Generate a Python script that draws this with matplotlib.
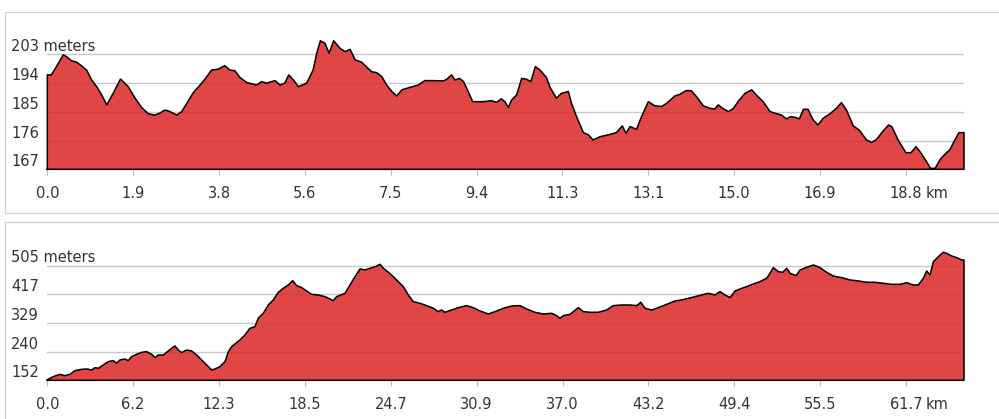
import matplotlib
matplotlib.use('Agg')
import matplotlib.pyplot as plt
from matplotlib.patches import Rectangle

# elevation profiles (km, meters)
top_km = [0.00, 0.09, 0.20, 0.35, 0.42, 0.53, 0.64, 0.75, 0.86, 0.97,
          1.08, 1.19, 1.30, 1.44, 1.60, 1.77, 1.92, 2.06, 2.21, 2.35,
          2.46, 2.57, 2.68, 2.83, 2.94, 3.05, 3.19, 3.34, 3.45, 3.59,
          3.74, 3.88, 3.99, 4.10, 4.21, 4.36, 4.58, 4.68, 4.79, 4.98,
          5.09, 5.19, 5.28, 5.38, 5.49, 5.67, 5.81, 5.89, 5.97, 6.07,
          6.16, 6.26, 6.40, 6.51, 6.62, 6.73, 6.87, 6.97, 7.09, 7.20,
          7.31, 7.42, 7.53, 7.64, 7.75, 7.93, 8.11, 8.25, 8.44, 8.66,
          8.73, 8.84, 8.91, 9.01, 9.10, 9.20, 9.30, 9.53, 9.71, 9.82,
          9.93, 10.00, 10.08, 10.15, 10.26, 10.37, 10.48, 10.57, 10.67, 10.77,
          10.91, 11.00, 11.13, 11.24, 11.39, 11.46, 11.57, 11.72, 11.83, 11.93,
          12.08, 12.26, 12.44, 12.57, 12.65, 12.74, 12.88, 12.99, 13.14, 13.28,
          13.43, 13.54, 13.72, 13.83, 13.97, 14.08, 14.19, 14.34, 14.49, 14.59,
          14.67, 14.76, 14.89, 15.00, 15.10, 15.25, 15.40, 15.50, 15.65, 15.80,
          15.90, 16.05, 16.16, 16.25, 16.34, 16.44, 16.53, 16.63, 16.74, 16.85,
          16.96, 17.11, 17.25, 17.36, 17.47, 17.62, 17.75, 17.91, 18.02, 18.13,
          18.26, 18.39, 18.46, 18.60, 18.77, 18.88, 18.99, 19.08, 19.19, 19.31,
          19.41, 19.52, 19.62, 19.73, 19.84, 19.93, 20.04]
top_elev = [196.6, 196.6, 199.2, 202.9, 202.3, 201.0, 200.6, 199.4, 198.1, 195.0,
            192.9, 190.3, 187.2, 190.8, 195.3, 192.9, 189.3, 186.4, 184.4, 184.0,
            184.6, 185.6, 185.1, 184.0, 185.1, 187.7, 191.0, 193.4, 195.3, 198.1,
            198.4, 199.5, 198.1, 197.9, 195.8, 194.2, 193.4, 194.5, 194.0, 194.8,
            193.4, 194.0, 196.6, 195.0, 192.9, 194.0, 198.1, 203.4, 207.3, 206.5,
            203.4, 207.3, 204.9, 203.9, 204.6, 201.3, 200.6, 199.2, 197.6, 197.3,
            196.1, 193.4, 191.4, 190.0, 191.9, 192.7, 193.4, 194.8, 194.8, 194.7,
            195.2, 196.6, 195.0, 195.5, 194.5, 191.4, 188.2, 188.2, 188.5, 188.0,
            189.1, 188.2, 186.4, 188.7, 190.3, 195.5, 195.2, 194.5, 199.2, 198.1,
            195.8, 192.4, 189.3, 190.8, 191.4, 187.7, 183.5, 178.5, 177.8, 176.2,
            177.2, 177.8, 178.5, 180.6, 178.3, 180.4, 179.5, 183.5, 188.2, 186.9,
            186.7, 187.7, 190.0, 190.5, 191.7, 191.6, 189.8, 186.9, 186.1, 185.9,
            187.2, 186.1, 185.1, 186.1, 188.2, 190.8, 191.9, 190.3, 188.2, 185.1,
            184.6, 184.0, 182.8, 183.5, 183.3, 182.8, 185.8, 185.8, 182.5, 180.9,
            183.0, 184.4, 186.1, 187.9, 185.6, 180.6, 179.3, 176.2, 175.4, 176.4,
            178.8, 180.9, 180.4, 176.2, 172.2, 172.2, 174.1, 172.5, 170.1, 167.3,
            167.3, 170.1, 171.7, 173.1, 176.2, 178.5, 178.5]

bottom_km = [0.00, 0.43, 0.91, 1.27, 1.63, 1.99, 2.47, 2.83, 3.19, 3.43,
             3.66, 4.02, 4.38, 4.74, 4.98, 5.22, 5.58, 5.82, 6.06, 6.42,
             6.78, 7.14, 7.50, 7.74, 7.98, 8.34, 8.69, 8.93, 9.17, 9.41,
             9.65, 10.01, 10.37, 10.73, 11.09, 11.45, 11.81, 12.05, 12.41, 12.77,
             13.01, 13.25, 13.60, 13.84, 14.20, 14.56, 14.92, 15.16, 15.52, 15.88,
             16.24, 16.60, 16.96, 17.32, 17.63, 17.92, 18.28, 18.63, 18.99, 19.47,
             19.95, 20.31, 20.55, 20.79, 21.39, 21.75, 22.11, 22.47, 22.83, 23.19,
             23.55, 23.91, 24.15, 24.51, 24.86, 25.22, 25.58, 25.94, 26.30, 26.78,
             27.26, 27.74, 28.10, 28.33, 28.57, 29.06, 29.53, 30.13, 30.61, 31.09,
             31.69, 32.17, 32.77, 33.37, 33.97, 34.44, 35.04, 35.64, 36.24, 36.60,
             36.84, 37.08, 37.56, 38.16, 38.52, 38.99, 39.59, 40.19, 40.67, 41.27,
             41.87, 42.35, 42.64, 42.95, 43.43, 43.91, 44.27, 44.50, 45.10, 45.58,
             46.06, 46.54, 47.02, 47.50, 47.98, 48.34, 48.70, 49.06, 49.42, 49.78,
             50.25, 50.73, 51.21, 51.69, 51.93, 52.17, 52.53, 52.84, 53.13, 53.37,
             53.81, 54.09, 54.57, 55.05, 55.53, 56.00, 56.48, 57.08, 57.68, 58.28,
             58.88, 59.47, 60.07, 60.67, 61.27, 61.75, 62.23, 62.59, 62.95, 63.19,
             63.43, 63.67, 64.03, 64.38, 64.62, 64.98, 65.34, 65.70, 65.87]
bottom_elev = [154.2, 163.5, 170.6, 166.5, 170.6, 181.9, 186.0, 187.0, 184.0, 191.1,
               189.1, 199.3, 209.6, 212.6, 204.4, 214.7, 217.8, 212.6, 224.9, 232.1,
               238.2, 240.3, 232.1, 221.9, 230.0, 230.0, 242.3, 250.5, 257.7, 245.4,
               237.2, 245.4, 242.3, 230.0, 214.7, 199.3, 184.0, 187.0, 194.2, 209.6,
               240.3, 255.7, 268.0, 276.2, 291.5, 312.0, 317.1, 342.7, 358.1, 383.7,
               399.1, 422.6, 434.9, 445.2, 458.5, 443.1, 437.0, 426.7, 416.5, 414.4,
               409.3, 402.2, 397.0, 409.3, 419.6, 445.2, 470.8, 494.3, 491.3, 496.4,
               501.5, 508.7, 496.4, 484.1, 470.8, 455.4, 440.1, 414.4, 393.9, 388.8,
               381.7, 373.5, 363.2, 368.3, 361.2, 368.3, 375.5, 381.7, 375.5, 365.3,
               356.0, 363.2, 373.5, 380.6, 381.7, 371.4, 361.2, 356.0, 358.1, 350.9,
               342.7, 350.9, 355.0, 375.5, 363.2, 361.2, 361.2, 368.3, 381.7, 383.7,
               383.7, 381.7, 392.0, 373.5, 368.3, 375.5, 381.7, 385.8, 396.0, 399.1,
               404.2, 409.3, 414.4, 419.6, 414.4, 424.7, 414.4, 406.3, 426.7, 432.9,
               440.1, 448.3, 455.4, 465.7, 481.0, 498.4, 486.1, 484.1, 496.4, 481.0,
               473.9, 491.3, 499.5, 506.7, 498.4, 484.1, 472.8, 467.7, 460.6, 457.5,
               453.4, 453.4, 450.3, 447.2, 447.2, 452.4, 445.2, 445.2, 465.7, 488.2,
               475.9, 516.9, 532.3, 545.6, 542.5, 534.3, 529.2, 522.0, 522.0]

top_tick_step = 1.877
top_tick_labels = ['0.0', '1.9', '3.8', '5.6', '7.5', '9.4', '11.3', '13.1',
                   '15.0', '16.9', '18.8']
top_grid = [167, 176, 185, 194, 203]
top_grid_labels = ['167', '176', '185', '194', '203 meters']

bottom_tick_step = 6.17
bottom_tick_labels = ['0.0', '6.2', '12.3', '18.5', '24.7', '30.9', '37.0',
                      '43.2', '49.4', '55.5', '61.7']
bottom_grid = [152.2, 240.4, 328.6, 416.8, 505.0]
bottom_grid_labels = ['152', '240', '329', '417', '505 meters']

W, H = 999, 419
FILL = (0.86, 0.15, 0.15, 0.85)
TEXT = '#333333'


def px_axes(fig, left, top, right, bottom):
    """ axes placed by pixel edges (origin top left) """
    return fig.add_axes([left / W, 1 - bottom / H, (right - left) / W,
                         (bottom - top) / H])


def panel_box(fig, left, top, right, bottom):
    """ the light frame drawn around each profile """
    fig.patches.append(Rectangle((left / W, 1 - bottom / H),
                                 (right - left) / W, (bottom - top) / H,
                                 transform=fig.transFigure, fill=False,
                                 edgecolor='#cfcfcf', linewidth=0.9))


def profile(ax, km, elev, ymax, grid, grid_labels, step, tick_labels):
    """
    draws one elevation profile: gridlines, filled area, outline, labels
    """
    ymin = grid[0]
    ax.set_xlim(0, km[-1])
    ax.set_ylim(ymin, ymax)
    for g in grid[1:]:
        ax.axhline(g, color='#c8c8c8', linewidth=1.0, zorder=1)

    xs = [km[0]] + km + [km[-1]]
    ys = [ymin] + elev + [ymin]
    ax.fill(xs, ys, facecolor=FILL, edgecolor='none', zorder=2)
    ax.plot(xs + [km[0]], ys + [ymin], color='black', linewidth=1.1,
            zorder=3, clip_on=False, solid_joinstyle='round')

    for g, lab in zip(grid, grid_labels):
        ax.annotate(lab, xy=(-0.0396, g), xycoords=('axes fraction', 'data'),
                    xytext=(0, 2.2), textcoords='offset points',
                    ha='left', va='baseline', fontsize=10.5, color=TEXT,
                    annotation_clip=False)

    ticks = [i * step for i in range(len(tick_labels))]
    ax.set_xticks(ticks)
    ax.set_xticklabels(tick_labels, fontsize=10.5, color=TEXT)
    ax.annotate('km', xy=(ticks[-1], 0), xycoords=('data', 'axes fraction'),
                xytext=(14.5, -4.3 - 8.0), textcoords='offset points',
                ha='left', va='top', fontsize=10.5, color=TEXT,
                annotation_clip=False)
    ax.tick_params(axis='x', length=4.3, width=0.8, color='#bbbbbb', pad=8.0)
    ax.set_yticks([])
    for s in ax.spines.values():
        s.set_visible(False)
    ax.patch.set_alpha(0)


if __name__ == '__main__':
    fig = plt.figure(figsize=(W / 100, H / 100), dpi=100)
    panel_box(fig, 5, 12, 1010, 213)
    panel_box(fig, 5, 222, 1010, 430)

    ax_top = px_axes(fig, 47.3, 35, 964, 169.3)
    profile(ax_top, top_km, top_elev, 209.1, top_grid, top_grid_labels,
            top_tick_step, top_tick_labels)

    ax_bottom = px_axes(fig, 47.3, 245, 964, 380.3)
    profile(ax_bottom, bottom_km, bottom_elev, 568, bottom_grid,
            bottom_grid_labels, bottom_tick_step, bottom_tick_labels)

    fig.savefig('out.png', dpi=100)
